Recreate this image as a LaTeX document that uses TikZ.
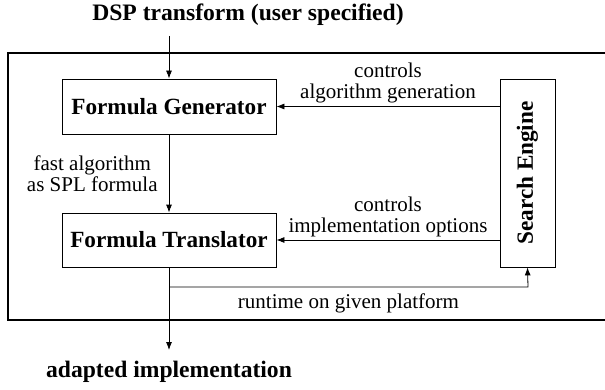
\documentclass[tikz,border=0pt]{standalone}
\usepackage{fontspec}
\setmainfont{Liberation Serif}
\usetikzlibrary{arrows.meta}
\usetikzlibrary{positioning}

\begin{document}
\begin{tikzpicture}[x=0.5pt,y=-0.5pt,
    blk/.style={draw,thin,font=\fontsize{11.6}{12}\selectfont\bfseries,inner sep=0pt},
    lbl/.style={font=\fontsize{10.5}{10.5}\selectfont,align=center,inner sep=1pt},
    io/.style={font=\fontsize{11.8}{12}\selectfont\bfseries,inner sep=0pt},
    conn/.style={-{Latex[length=4pt,width=3pt]},thin}]
    \useasboundingbox (0,0) rectangle (605,390);
    % outer frame, open on the right
    \draw[line width=1pt] (612,53) -- (8,53) -- (8,320) -- (612,320);
    \node[io] (spec) at (248,15) {DSP transform (user specified)};
    \coordinate (in) at (169,36);
    \node[blk,minimum width=107pt,minimum height=27.5pt] (gen) at (169,106.5) {Formula Generator};
    \node[blk,minimum width=107pt,minimum height=27pt] (trans) at (169,240) {Formula Translator};
    \node[blk,rotate=90,minimum width=94pt,minimum height=27.5pt] (search) at (527.5,173) {Search Engine};
    \coordinate (out) at (169,350);
    \node[io] (impl) at (169,372) {adapted implementation};
    \coordinate (turn) at (169,287);
    \coordinate (back) at (528,287);
    \draw[conn] (in) -- (gen);
    \draw[conn] (gen) -- node[lbl,left=4.5pt] {fast algorithm\\as SPL formula} (trans);
    \draw[conn] (search.north |- gen) -- node[lbl,above=0.5pt] {controls\\algorithm generation} (gen);
    \draw[conn] (search.north |- trans) -- node[lbl,above=0.5pt] {controls\\implementation options} (trans);
    \draw[conn] (trans) -- (out);
    \draw[conn] (turn) -- node[lbl,below=2pt] {runtime on given platform} (back) -- (search.west);
\end{tikzpicture}
\end{document}
